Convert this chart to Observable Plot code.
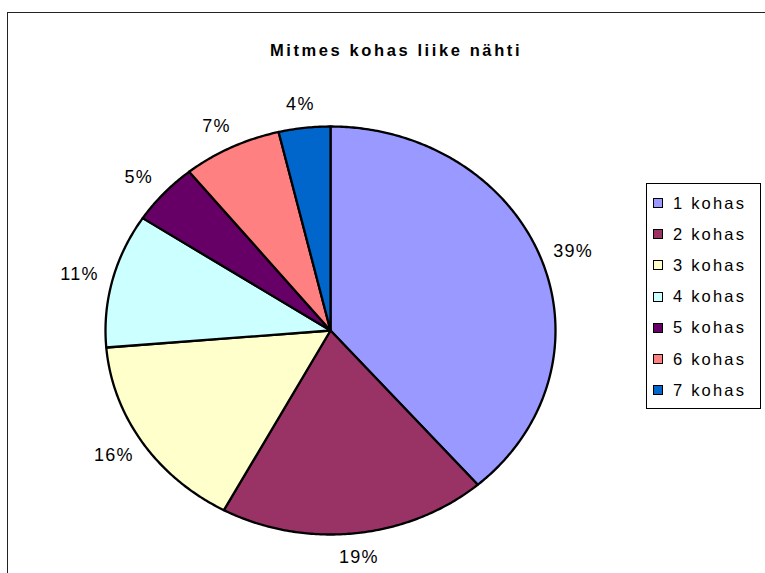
<!DOCTYPE html>
<html><head><meta charset="utf-8">
<script src="https://cdn.jsdelivr.net/npm/d3@7"></script>
<script src="https://cdn.jsdelivr.net/npm/@observablehq/plot@0.6"></script>
<style>
html,body{margin:0;padding:0;background:#fff;overflow:hidden;}
#wrap{position:relative;width:765px;height:573px;font-family:"Liberation Sans",Arial,sans-serif;overflow:hidden;}
#frame{position:absolute;left:7px;top:12px;width:800px;height:620px;border:1px solid #222;box-sizing:border-box;}
#title{position:absolute;left:0;width:792px;top:41px;line-height:18px;text-align:center;font-weight:bold;font-size:16.5px;letter-spacing:2.6px;color:#000;}
#chart{position:absolute;left:0;top:0;}
#legend{position:absolute;left:646px;top:183px;width:115px;height:226px;border:1px solid #000;box-sizing:border-box;background:#fff;}
.item{position:absolute;left:6px;height:20px;display:flex;align-items:center;font-size:16.5px;letter-spacing:2.2px;color:#000;white-space:nowrap;}
.sw{width:8px;height:8px;border:1px solid #000;margin-right:10px;flex:none;}
</style>
</head><body>
<div id="wrap">
  <div id="frame"></div>
  <div id="chart"></div>
  <div id="title"></div>
  <div id="legend"></div>
</div>
<script>
const title = "Mitmes kohas liike nähti";
const categories = ["1 kohas","2 kohas","3 kohas","4 kohas","5 kohas","6 kohas","7 kohas"];
const values = [38.6, 19.2, 15.8, 10.6, 4.9, 7.1, 3.7];
const labels = ["39%","19%","16%","11%","5%","7%","4%"];
const colors = ["#9999FF","#993366","#FFFFCC","#CCFFFF","#660066","#FF8080","#0066CC"];

document.getElementById("title").textContent = title;

const total = d3.sum(values);
let acc = 0;
const slices = values.map((v, i) => {
  const a0 = acc / total * 2 * Math.PI;
  acc += v;
  const a1 = acc / total * 2 * Math.PI;
  const n = Math.max(4, Math.ceil((a1 - a0) / 0.01));
  const pts = [{x: 0, y: 0}];
  for (let k = 0; k <= n; k++) {
    const a = a0 + (a1 - a0) * k / n;
    pts.push({x: Math.sin(a), y: Math.cos(a)});
  }
  const am = (a0 + a1) / 2;
  return {cat: categories[i], color: colors[i], label: labels[i], pts, am};
});

// pie geometry (pixels) used to place labels just outside the rim
const rx = 225, ry = 204;
const labelData = slices.map(s => ({
  label: s.label,
  x: Math.sin(s.am) * (1 + 34 / rx),
  y: Math.cos(s.am) * (1 + 24 / ry)
}));

const chart = Plot.plot({
  width: 765,
  height: 573,
  margin: 0,
  x: {domain: [-1, 1], range: [330 - rx, 330 + rx], axis: null},
  y: {domain: [-1, 1], range: [330 + ry, 330 - ry], axis: null},
  style: {fontFamily: "'Liberation Sans', Arial, sans-serif", background: "transparent", overflow: "visible"},
  marks: [
    ...slices.map(s => Plot.line(s.pts, {
      x: "x", y: "y", fill: s.color, stroke: "#000", strokeWidth: 2.3,
      strokeLinejoin: "round", curve: "linear-closed"
    })),
    Plot.text(labelData, {
      x: "x", y: "y", text: "label", fontSize: 18, fill: "#000"
    })
  ]
});
chart.querySelectorAll("text").forEach(t => t.setAttribute("letter-spacing", "1.3"));
document.getElementById("chart").appendChild(chart);

const legend = d3.select("#legend");
categories.forEach((c, i) => {
  const item = legend.append("div").attr("class", "item").style("top", (9 + i * 31.2) + "px");
  item.append("div").attr("class", "sw").style("background", colors[i]);
  item.append("span").text(c);
});
</script>
</body></html>
